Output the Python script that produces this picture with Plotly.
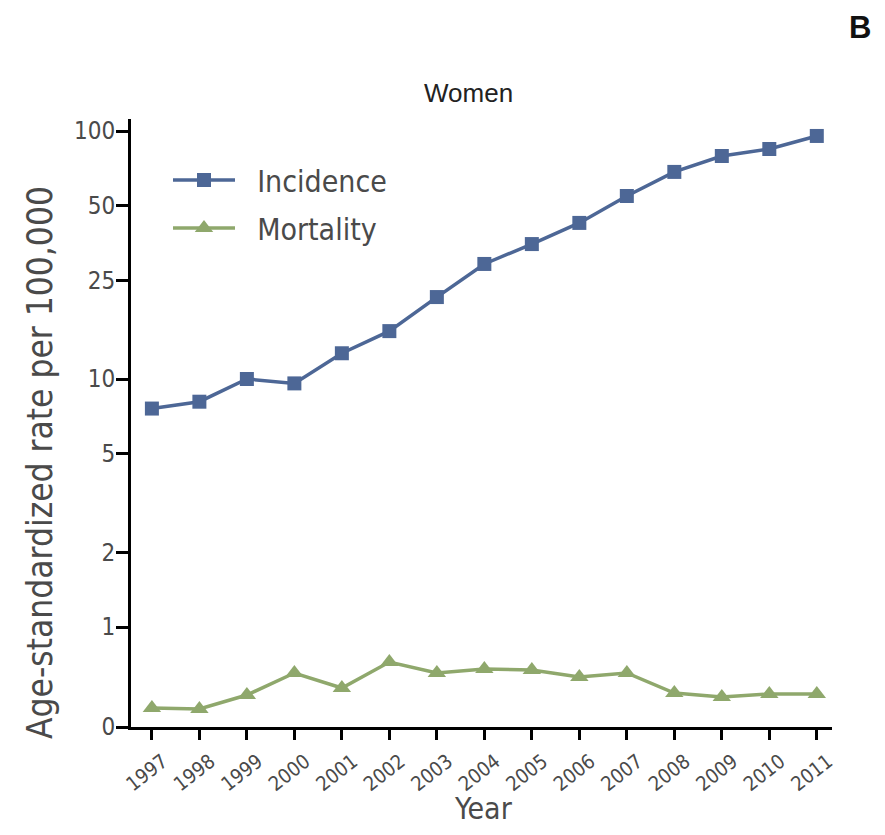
import plotly.graph_objects as go

# ---- data ----
years = list(range(1997, 2012))
year_labels = [str(y) for y in years]
incidence = [7.6, 8.1, 10.0, 9.6, 12.7, 15.6, 21.4, 29.1, 35.0, 42.6, 54.7, 68.4, 79.3, 84.6, 95.5]
mortality = [0.19, 0.18, 0.32, 0.54, 0.39, 0.65, 0.54, 0.58, 0.57, 0.50, 0.54, 0.34, 0.30, 0.33, 0.33]
upper_ticks = [1, 2, 5, 10, 25, 50, 100]
upper_labels = ["1", "2", "5", "10", "25", "50", "100"]
lower_ticks = [0]
lower_labels = ["0"]
series_names = ["Incidence", "Mortality"]

INC_COLOR = "#4d6796"
MOR_COLOR = "#8fa86c"
TXT = "#4a4a4a"
NARROW = "DejaVu Sans Condensed, Liberation Sans Narrow, sans-serif"
REG = "Liberation Sans, Arial, sans-serif"
GAP = "\u00a0\u00a0"  # extra space between legend symbol and its text

OFF = 8  # page body margin
W, H = 885, 835
# target screen positions of the plot box
X0, X1, Y0, Y1 = 131, 832, 119, 727
L, R = X0 - OFF, W - (X1 - OFF)
T, B = Y0 - OFF, H - (Y1 - OFF)
plot_w = X1 - X0
plot_h = Y1 - Y0
lower_frac = 100 / plot_h


def px(x):
    return (x - X0) / plot_w


def py(y):
    return (Y1 - y) / plot_h


fig = go.Figure()
fig.add_trace(go.Scatter(
    x=years, y=incidence, name=GAP + series_names[0], mode="lines+markers",
    line=dict(color=INC_COLOR, width=3.5),
    marker=dict(symbol="square", size=14, color=INC_COLOR),
    xaxis="x", yaxis="y", legend="legend"))
fig.add_trace(go.Scatter(
    x=years, y=mortality, name=GAP + series_names[1], mode="lines+markers",
    line=dict(color=MOR_COLOR, width=3.5),
    marker=dict(symbol="triangle-up", size=16, color=MOR_COLOR),
    xaxis="x", yaxis="y2", legend="legend2"))

axis_common = dict(showline=True, linecolor="black", linewidth=3, ticks="outside",
                   tickcolor="black", showgrid=False, zeroline=False)
ytickfont = dict(family=NARROW, size=24, color=TXT)

fig.update_layout(
    width=W, height=H, autosize=False,
    margin=dict(l=L, r=R, t=T, b=B),
    plot_bgcolor="white", paper_bgcolor="white",
    xaxis=dict(range=[1996.56, 2011.32], tickvals=years, ticktext=year_labels,
               tickangle=-38, ticklen=10, tickwidth=3, anchor="y2",
               ticklabelshift=11, ticklabelstandoff=2,
               tickfont=dict(family=NARROW, size=20, color=TXT), **axis_common),
    yaxis=dict(type="log", domain=[lower_frac, 1], range=[0, (plot_h - 100) / 248],
               tickvals=upper_ticks, ticktext=upper_labels, ticklen=12, tickwidth=3,
               ticklabelstandoff=-4, anchor="x", tickfont=ytickfont, **axis_common),
    yaxis2=dict(domain=[0, lower_frac], range=[0, 1], tickvals=lower_ticks,
                ticktext=lower_labels, ticklen=12, tickwidth=3, ticklabelstandoff=-4,
                anchor="x", tickfont=ytickfont, **axis_common),
    legend=dict(x=px(168), y=py(180), xanchor="left", yanchor="middle",
                bgcolor="rgba(0,0,0,0)", itemwidth=62,
                font=dict(family=NARROW, size=30, color=TXT)),
    legend2=dict(x=px(168), y=py(228), xanchor="left", yanchor="middle",
                 bgcolor="rgba(0,0,0,0)", itemwidth=62,
                 font=dict(family=NARROW, size=30, color=TXT)),
    showlegend=True,
)

fig.add_annotation(text="Women", xref="paper", yref="paper", x=px(468), y=py(93),
                   showarrow=False, xanchor="center", yanchor="middle",
                   font=dict(family=REG, size=26, color="#222222"))
fig.add_annotation(text="<b>B</b>", xref="paper", yref="paper", x=px(860), y=py(28),
                   showarrow=False, xanchor="center", yanchor="middle",
                   font=dict(family=REG, size=31, color="#111111"))
fig.add_annotation(text="Year", xref="paper", yref="paper", x=px(483), y=py(808),
                   showarrow=False, xanchor="center", yanchor="middle",
                   font=dict(family=NARROW, size=30, color=TXT))
fig.add_annotation(text="Age-standardized rate per 100,000", xref="paper", yref="paper",
                   x=px(40), y=py(463), textangle=-90,
                   showarrow=False, xanchor="center", yanchor="middle",
                   font=dict(family=NARROW, size=35, color=TXT))

fig.write_html("out.html")
